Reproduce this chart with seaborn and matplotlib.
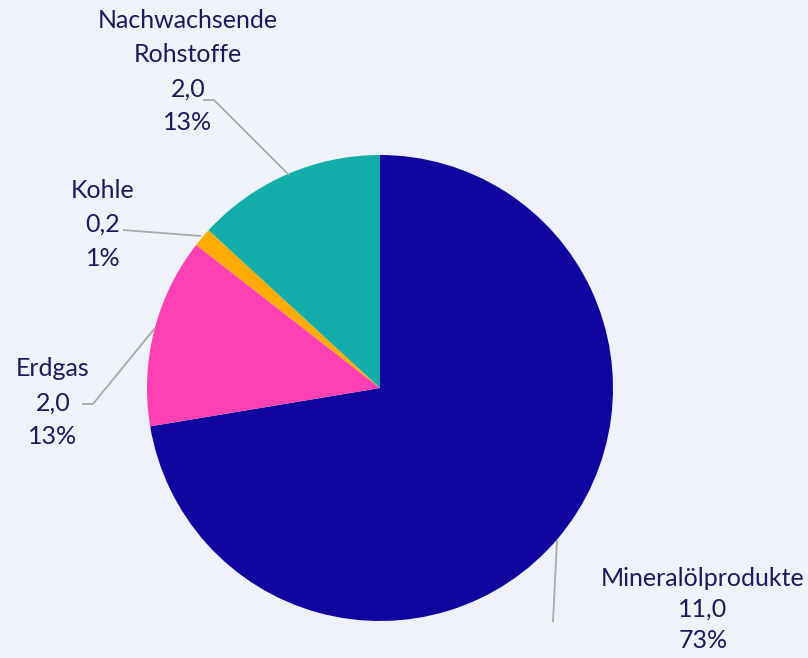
import matplotlib
matplotlib.use("Agg")
import matplotlib.pyplot as plt
import seaborn as sns

categories = ["Mineralölprodukte", "Erdgas", "Kohle", "Nachwachsende\nRohstoffe"]
values = [11.0, 2.0, 0.2, 2.0]
value_labels = ["11,0", "2,0", "0,2", "2,0"]
percent_labels = ["73%", "13%", "1%", "13%"]
colors = ["#10069F", "#FF40B4", "#FFAB00", "#12ADA9"]

BG = "#EFF3F9"
TXT = "#1B1A5E"
LINE = "#AAAAAA"

sns.set_theme(style="white")
plt.rcParams["font.family"] = ["Lato", "DejaVu Sans"]

W, H = 808, 658
fig = plt.figure(figsize=(W / 100, H / 100), dpi=100, facecolor=BG)
ax = fig.add_axes([0, 0, 1, 1], facecolor=BG)

cx, cy, r = 380, H - 388, 233
ax.pie(values, colors=colors, startangle=90, counterclock=False,
       center=(cx, cy), radius=r, wedgeprops=dict(linewidth=0),
       frame=True)

ax.set_xlim(0, W)
ax.set_ylim(0, H)
ax.set_aspect("equal", adjustable="box")
ax.axis("off")

# leader lines (pixel coords, y from top) and label centers
leaders = [
    [(557, 540), (553, 622)],
    [(155, 328), (93, 404), (82, 404)],
    [(201, 236), (123, 230)],
    [(289, 175), (214, 100), (203, 100)],
]
label_pos = [(703, 578), (53, 369), (103, 190), (188, 21)]
spacing = [31, 34, 34, 34]

for i, cat in enumerate(categories):
    pts = leaders[i]
    ax.plot([p[0] for p in pts], [H - p[1] for p in pts], color=LINE, lw=1.3,
            solid_capstyle="butt")
    lines = cat.split("\n") + [value_labels[i], percent_labels[i]]
    x0, y0 = label_pos[i]
    for j, t in enumerate(lines):
        ax.text(x0, H - (y0 + j * spacing[i]), t, ha="center", va="center",
                fontsize=18, color=TXT)

fig.savefig("out.png", dpi=100, facecolor=BG)
